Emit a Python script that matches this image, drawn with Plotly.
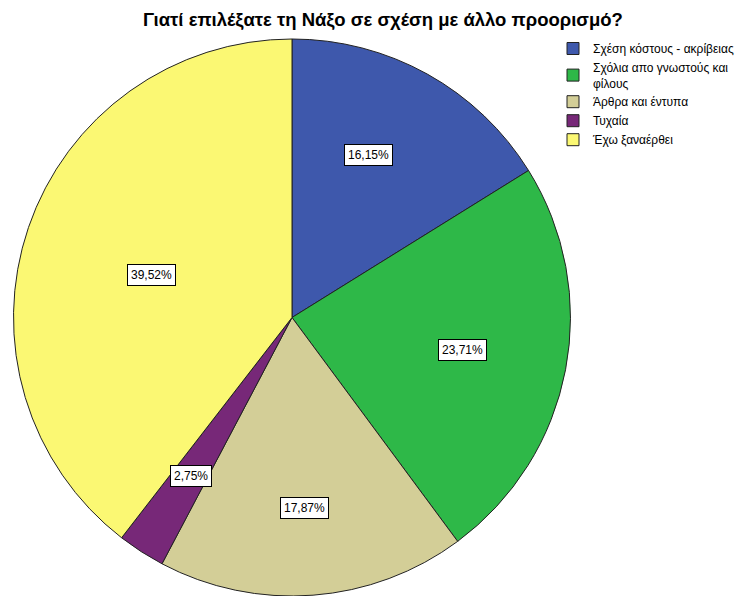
import numpy as np
import plotly.graph_objects as go

# Survey answers and their shares (%)
categories = [
    "Σχέση κόστους - ακρίβειας",
    "Σχόλια απο γνωστούς και<br>φίλους",
    "Άρθρα και έντυπα",
    "Τυχαία",
    "Έχω ξαναέρθει",
]
shares = [16.15, 23.71, 17.87, 2.75, 39.52]
colors = ["#3E58AC", "#2EB848", "#D3CE97", "#772878", "#FBF873"]

W, H = 748, 596
FONT = "Arial, Liberation Sans, sans-serif"
# pie placement in pixels
x0, x1 = 11, 573
y_top, y_bot = 39, 596
cx = (x0 + x1) / 2
cy = (y_top + y_bot) / 2
R = min(x1 - x0, y_bot - y_top) / 2

fig = go.Figure(
    go.Pie(
        labels=categories,
        values=shares,
        sort=False,
        direction="clockwise",
        rotation=0,
        marker=dict(colors=colors, line=dict(color="#222222", width=1)),
        textinfo="none",
        hoverinfo="label+percent",
        domain=dict(x=[x0 / W, x1 / W], y=[1 - y_bot / H, 1 - y_top / H]),
    )
)

# value labels: radial distance (fraction of radius) and angle nudge (deg)
radial_frac = [0.652, 0.622, 0.675, 0.668, 0.529]
angle_nudge = [-4.3, -0.8, 0.6, 0.25, -0.9]
cum = np.cumsum([0] + shares[:-1])
for share, start, f, dn in zip(shares, cum, radial_frac, angle_nudge):
    theta = np.deg2rad((start + share / 2) / 100 * 360 + dn)
    px = cx + R * f * np.sin(theta)
    py = cy + 2.5 - R * f * np.cos(theta)
    fig.add_annotation(
        x=px / W, y=1 - py / H, xref="paper", yref="paper",
        xanchor="center", yanchor="middle",
        text=f"{share:.2f}%".replace(".", ","),
        showarrow=False,
        font=dict(family=FONT, size=12, color="black"),
        bgcolor="white", bordercolor="black", borderwidth=1, borderpad=3,
    )

fig.update_layout(
    width=W, height=H,
    margin=dict(l=0, r=0, t=0, b=0),
    paper_bgcolor="white", plot_bgcolor="white",
    title=dict(
        text="<b>Γιατί επιλέξατε τη Νάξο σε σχέση με άλλο προορισμό?</b>",
        x=383 / W, xanchor="center", y=1 - 20 / H, yanchor="middle",
        font=dict(family=FONT, size=18.5, color="black"),
    ),
    legend=dict(
        x=553 / W, y=1 - 34 / H, xanchor="left", yanchor="top",
        font=dict(family=FONT, size=12, color="black"),
        tracegroupgap=0, itemwidth=30,
        bgcolor="rgba(0,0,0,0)",
    ),
)

fig.write_html("out.html")
